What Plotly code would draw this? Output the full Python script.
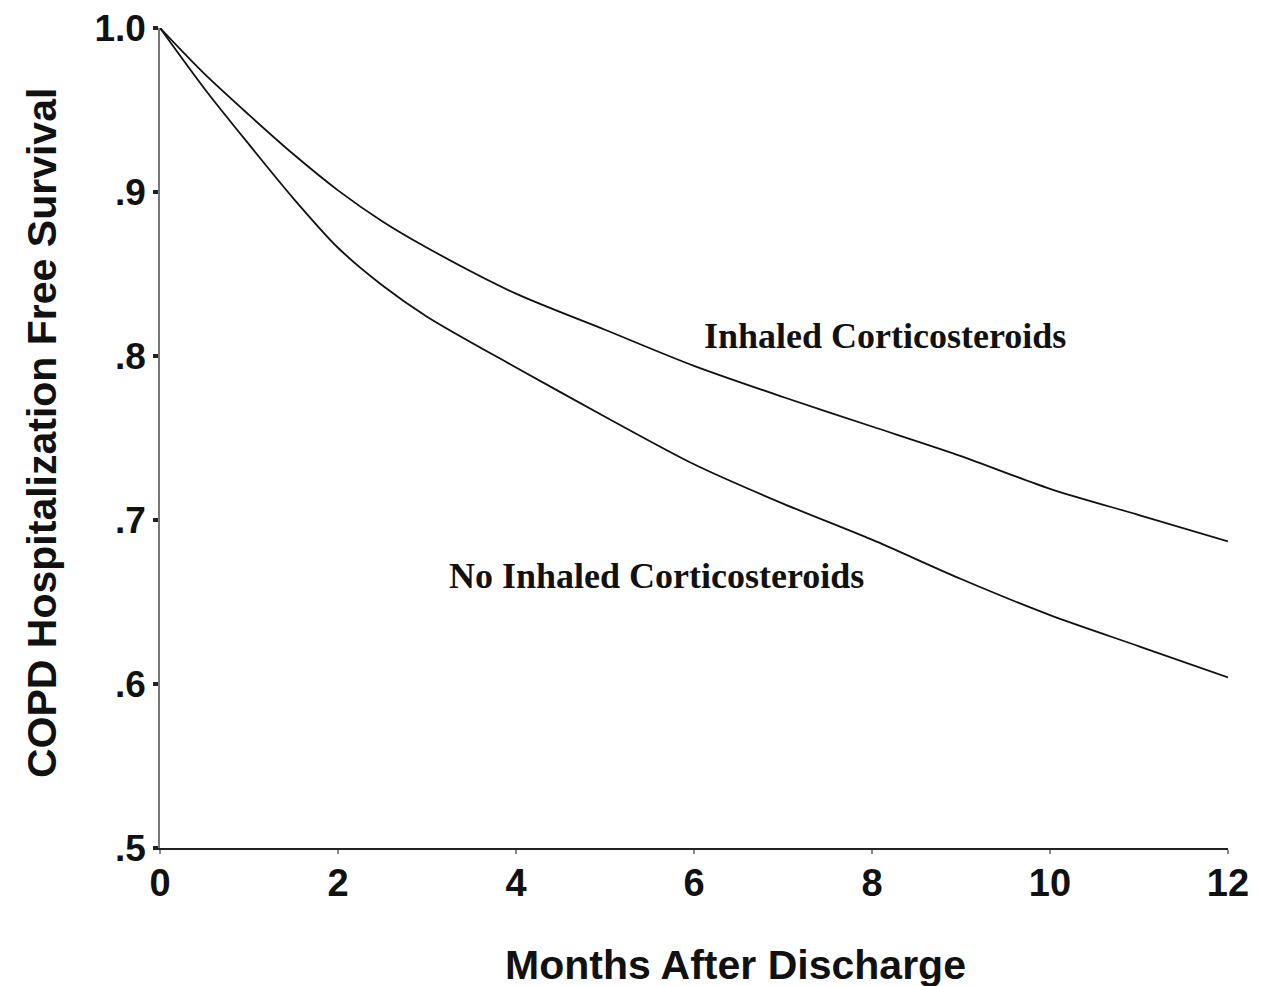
import plotly.graph_objects as go

# Mois après la sortie
months = [0, 0.5, 1, 1.5, 2, 2.5, 3, 4, 5, 6, 7, 8, 9, 10, 11, 12]

# Survie sans hospitalisation BPCO
inhaled = [1.0, 0.972, 0.947, 0.923, 0.901, 0.882, 0.866, 0.838, 0.816,
           0.794, 0.775, 0.757, 0.739, 0.719, 0.703, 0.687]
no_inhaled = [1.0, 0.963, 0.929, 0.896, 0.866, 0.843, 0.824, 0.793, 0.763,
              0.734, 0.710, 0.688, 0.664, 0.642, 0.623, 0.604]

x_ticks = [0, 2, 4, 6, 8, 10, 12]
y_ticks = [0.5, 0.6, 0.7, 0.8, 0.9, 1.0]
y_tick_labels = [".5", ".6", ".7", ".8", ".9", "1.0"]

sans = "Liberation Sans, Arial, sans-serif"
serif = "Liberation Serif, Times New Roman, serif"

fig = go.Figure()

for name, values in [("Inhaled Corticosteroids", inhaled),
                     ("No Inhaled Corticosteroids", no_inhaled)]:
    fig.add_trace(go.Scatter(
        x=months, y=values, mode="lines", name=name,
        line=dict(color="#111111", width=1.8, shape="spline", smoothing=0.8),
        showlegend=False
    ))

# Étiquettes des courbes
fig.add_annotation(x=8.15, y=0.812, text="<b>Inhaled Corticosteroids</b>",
                   showarrow=False, font=dict(family=serif, size=36, color="#111111"))
fig.add_annotation(x=5.58, y=0.666, text="<b>No Inhaled Corticosteroids</b>",
                   showarrow=False, font=dict(family=serif, size=36, color="#111111"))

# Titres des axes (position en pixels de la page -> coordonnées papier)
fig.add_annotation(xref="paper", yref="paper", x=(735 - 160) / 1068, y=-(965 - 848) / 820,
                   xanchor="center", yanchor="middle",
                   text="<b>Months After Discharge</b>", showarrow=False,
                   font=dict(family=sans, size=41, color="#111111"))
fig.add_annotation(xref="paper", yref="paper", x=-(160 - 42) / 1068, y=(848 - 433) / 820,
                   xanchor="center", yanchor="middle",
                   text="<b>COPD Hospitalization Free Survival</b>", showarrow=False,
                   textangle=-90, font=dict(family=sans, size=41, color="#111111"))

fig.update_xaxes(
    range=[0, 12], tickvals=x_ticks, ticks="outside", ticklen=4, tickwidth=2,
    tickcolor="#888888", ticklabelstandoff=-4, automargin=False,
    tickfont=dict(family=sans, size=38, color="#111111", weight="bold"),
    showline=True, linecolor="#222222", linewidth=2, showgrid=False, zeroline=False
)
fig.update_yaxes(
    range=[0.5, 1.0], tickvals=y_ticks, ticktext=y_tick_labels,
    ticks="outside", ticklen=5, tickwidth=4, tickcolor="#222222",
    ticklabeloverflow="allow", automargin=False,
    tickfont=dict(family=sans, size=37, color="#111111", weight="bold"),
    showline=True, linecolor="#777777", linewidth=1.5, showgrid=False, zeroline=False
)

# la page ajoute une marge de 8 px autour du graphique
fig.update_layout(
    width=1261, height=986,
    margin=dict(l=152, r=41, t=20, b=146),
    plot_bgcolor="white", paper_bgcolor="white"
)

fig.write_html("out.html")
